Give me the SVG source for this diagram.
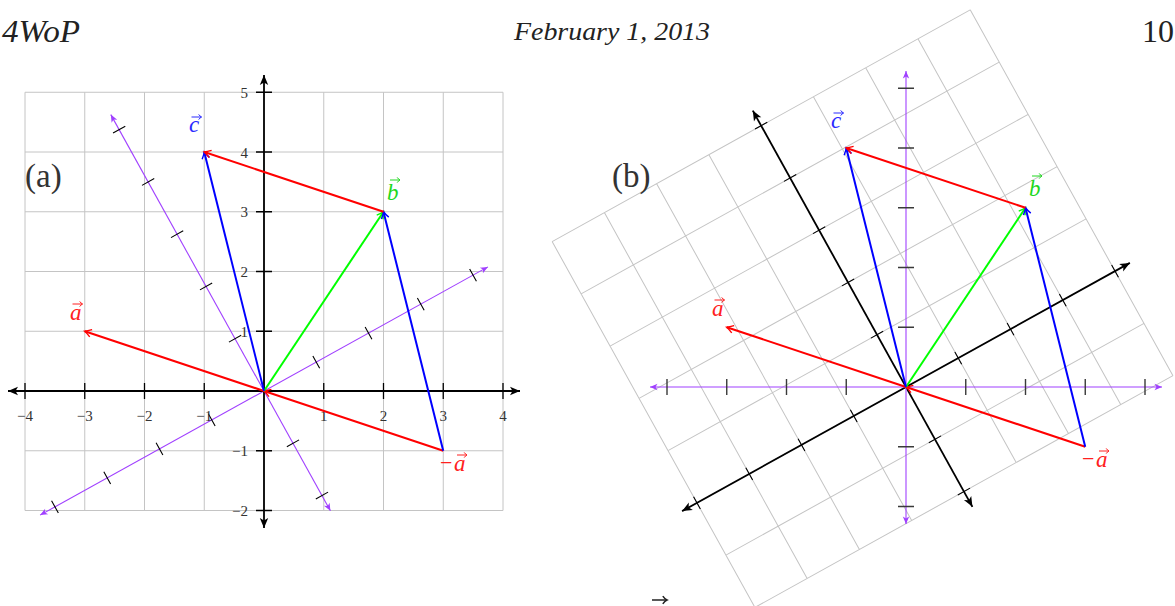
<svg xmlns="http://www.w3.org/2000/svg" xmlns:xlink="http://www.w3.org/1999/xlink" width="1175" height="606" viewBox="0 0 1175 606">
<style>
  .grid{fill:none;stroke:#c4c4c4;stroke-width:1}
  .axK{fill:none;stroke:#000;stroke-width:1.8;marker-start:url(#mK);marker-end:url(#mK)}
  .axP{fill:none;stroke:#a040ff;stroke-width:1.1;marker-start:url(#mP);marker-end:url(#mP)}
  .tk{fill:none;stroke:#000;stroke-width:1.1}
  .tkG{fill:none;stroke:#3a3a3a;stroke-width:1.4}
  .vr{fill:none;stroke:#ff0000;stroke-width:2;marker-end:url(#mR)}
  .vg{fill:none;stroke:#00ff00;stroke-width:2;marker-end:url(#mG)}
  .vb{fill:none;stroke:#0000ff;stroke-width:2;marker-end:url(#mB)}
  .num{font-family:"Liberation Serif","DejaVu Serif",serif;font-size:15px;fill:#333}
  .lbl{font-family:"Liberation Serif","DejaVu Serif",serif;font-style:italic;font-size:23px}
  .min{font-family:"Liberation Serif","DejaVu Serif",serif;font-size:22px}
  .hdr{font-family:"Liberation Serif","DejaVu Serif",serif;font-style:italic;fill:#222}
  .pl{font-family:"Liberation Serif","DejaVu Serif",serif;font-size:33px;fill:#333}
</style>
<defs>
  <marker id="mK" viewBox="-12 -6 14 12" markerWidth="14" markerHeight="12" refX="0" refY="0" orient="auto-start-reverse" markerUnits="userSpaceOnUse"><path d="M-10,-4.2 L0,0 L-10,4.2 L-7.5,0Z" fill="#000"/></marker>
  <marker id="mP" viewBox="-10 -5 12 10" markerWidth="12" markerHeight="10" refX="0" refY="0" orient="auto-start-reverse" markerUnits="userSpaceOnUse"><path d="M-7.5,-3.2 L0,0 L-7.5,3.2 L-5.5,0Z" fill="#a040ff"/></marker>
  <marker id="mR" viewBox="-10 -6 12 12" markerWidth="12" markerHeight="12" refX="0" refY="0" orient="auto" markerUnits="userSpaceOnUse"><path d="M-6.5,-3.8 Q-2.5,-1 0,0 Q-2.5,1 -6.5,3.8" fill="none" stroke="#ff0000" stroke-width="1.4"/></marker>
  <marker id="mG" viewBox="-10 -6 12 12" markerWidth="12" markerHeight="12" refX="0" refY="0" orient="auto" markerUnits="userSpaceOnUse"><path d="M-6.5,-3.8 Q-2.5,-1 0,0 Q-2.5,1 -6.5,3.8" fill="none" stroke="#00ff00" stroke-width="1.4"/></marker>
  <marker id="mB" viewBox="-10 -6 12 12" markerWidth="12" markerHeight="12" refX="0" refY="0" orient="auto" markerUnits="userSpaceOnUse"><path d="M-6.5,-3.8 Q-2.5,-1 0,0 Q-2.5,1 -6.5,3.8" fill="none" stroke="#0000ff" stroke-width="1.4"/></marker>
  <path id="gridP" d="M-239,-298.75V119.5 M-179.25,-298.75V119.5 M-119.5,-298.75V119.5 M-59.75,-298.75V119.5 M0,-298.75V119.5 M59.75,-298.75V119.5 M119.5,-298.75V119.5 M179.25,-298.75V119.5 M239,-298.75V119.5 M-239,-298.75H239 M-239,-239H239 M-239,-179.25H239 M-239,-119.5H239 M-239,-59.75H239 M-239,0H239 M-239,59.75H239 M-239,119.5H239"/>
  <path id="axH" d="M-256,0H256"/>
  <path id="axV" d="M0,137V-316"/>
  <path id="ticks" d="M-239,-8V8 M-179.25,-8V8 M-119.5,-8V8 M-59.75,-8V8 M59.75,-8V8 M119.5,-8V8 M179.25,-8V8 M239,-8V8 M-8,-298.75H8 M-8,-239H8 M-8,-179.25H8 M-8,-119.5H8 M-8,-59.75H8 M-8,59.75H8 M-8,119.5H8"/>
  <path id="ticksS" d="M-239,-7V7 M-179.25,-7V7 M-119.5,-7V7 M-59.75,-7V7 M59.75,-7V7 M119.5,-7V7 M179.25,-7V7 M239,-7V7 M-7,-298.75H7 M-7,-239H7 M-7,-179.25H7 M-7,-119.5H7 M-7,-59.75H7 M-7,59.75H7 M-7,119.5H7"/>
  <g id="acc" fill="none" stroke="currentColor" stroke-width="1"><path d="M0,0H10"/><path d="M7.2,-2.6 Q8.6,-0.6 10,0 Q8.6,0.6 7.2,2.6"/></g>
</defs>

<g id="header">
  <text class="hdr" x="2" y="42" font-size="32" textLength="78" lengthAdjust="spacingAndGlyphs">4WoP</text>
  <text class="hdr" x="514" y="40" font-size="26" textLength="196" lengthAdjust="spacingAndGlyphs">February 1, 2013</text>
  <text x="1142" y="42" font-family="Liberation Serif, serif" font-size="32" fill="#222">10</text>
</g>

<!-- Panel (a) -->
<g id="panel-a">
  <use href="#gridP" class="grid" transform="translate(264,391)"/>
  <g id="a-purple-axes" transform="translate(264,391) rotate(-29)">
    <use href="#axH" class="axP"/>
    <use href="#axV" class="axP"/>
    <use href="#ticksS" class="tk"/>
  </g>
  <g id="a-axes" transform="translate(264,391)">
    <use href="#axH" class="axK"/>
    <use href="#axV" class="axK"/>
    <use href="#ticks" class="tk" style="stroke-width:1.3"/>
  </g>
  <g id="a-xlabels" class="num" text-anchor="middle">
    <text x="25" y="421">−4</text><text x="84.75" y="421">−3</text><text x="144.5" y="421">−2</text><text x="204.25" y="421">−1</text>
    <text x="323.75" y="421">1</text><text x="383.5" y="421">2</text><text x="443.25" y="421">3</text><text x="503" y="421">4</text>
  </g>
  <g id="a-ylabels" class="num" text-anchor="end">
    <text x="248" y="97.5">5</text><text x="248" y="157.5">4</text><text x="248" y="217">3</text><text x="248" y="277">2</text><text x="248" y="336.5">1</text>
    <text x="248" y="456">−1</text><text x="248" y="516">−2</text>
  </g>
  <g id="a-vectors">
    <path class="vr" d="M264,391L84.75,331.25"/>
    <path class="vr" d="M443.25,450.75L264,391"/>
    <path class="vg" d="M264,391L383.5,211.75"/>
    <path class="vb" d="M443.25,450.75L383.5,211.75"/>
    <path class="vb" d="M264,391L204.25,152"/>
    <path class="vr" d="M383.5,211.75L204.25,152"/>
  </g>
  <g id="a-labels">
    <g id="a-lbl-c" fill="#2a2aff" color="#2a2aff"><text class="lbl" x="189" y="132">c</text><use href="#acc" x="191.5" y="117"/></g>
    <g id="a-lbl-b" fill="#1ed81e" color="#1ed81e"><text class="lbl" x="387" y="200">b</text><use href="#acc" x="390" y="180"/></g>
    <g id="a-lbl-a" fill="#ff2020" color="#ff2020"><text class="lbl" x="70" y="320">a</text><use href="#acc" x="72.5" y="304"/></g>
    <g id="a-lbl-na" fill="#ff2020" color="#ff2020"><text class="min" x="440" y="470">−</text><text class="lbl" x="454" y="471">a</text><use href="#acc" x="457" y="455"/></g>
  </g>
  <text id="a-title" class="pl" x="25" y="187">(a)</text>
</g>

<!-- Panel (b) -->
<g id="panel-b">
  <use href="#gridP" class="grid" transform="translate(906,387) rotate(-29)"/>
  <g id="b-black-axes" transform="translate(906,387) rotate(-29)">
    <use href="#axH" class="axK"/>
    <use href="#axV" class="axK"/>
    <use href="#ticksS" class="tk"/>
  </g>
  <g id="b-purple-axes" transform="translate(906,387)">
    <use href="#axH" class="axP"/>
    <use href="#axV" class="axP"/>
    <use href="#ticks" class="tkG"/>
  </g>
  <g id="b-vectors">
    <path class="vr" d="M906,387L726.75,327.25"/>
    <path class="vr" d="M1085.25,446.75L906,387"/>
    <path class="vg" d="M906,387L1025.5,207.75"/>
    <path class="vb" d="M1085.25,446.75L1025.5,207.75"/>
    <path class="vb" d="M906,387L846.25,148"/>
    <path class="vr" d="M1025.5,207.75L846.25,148"/>
  </g>
  <g id="b-labels">
    <g id="b-lbl-c" fill="#2a2aff" color="#2a2aff"><text class="lbl" x="831" y="128">c</text><use href="#acc" x="833.5" y="113"/></g>
    <g id="b-lbl-b" fill="#1ed81e" color="#1ed81e"><text class="lbl" x="1029" y="196">b</text><use href="#acc" x="1032" y="176"/></g>
    <g id="b-lbl-a" fill="#ff2020" color="#ff2020"><text class="lbl" x="712" y="316">a</text><use href="#acc" x="714.5" y="300"/></g>
    <g id="b-lbl-na" fill="#ff2020" color="#ff2020"><text class="min" x="1082" y="466">−</text><text class="lbl" x="1096" y="467">a</text><use href="#acc" x="1099" y="451"/></g>
  </g>
  <text id="b-title" class="pl" x="612" y="187">(b)</text>
</g>

<g id="footer-accent" color="#222"><use href="#acc" transform="translate(652,600) scale(1.5)"/></g>
</svg>
